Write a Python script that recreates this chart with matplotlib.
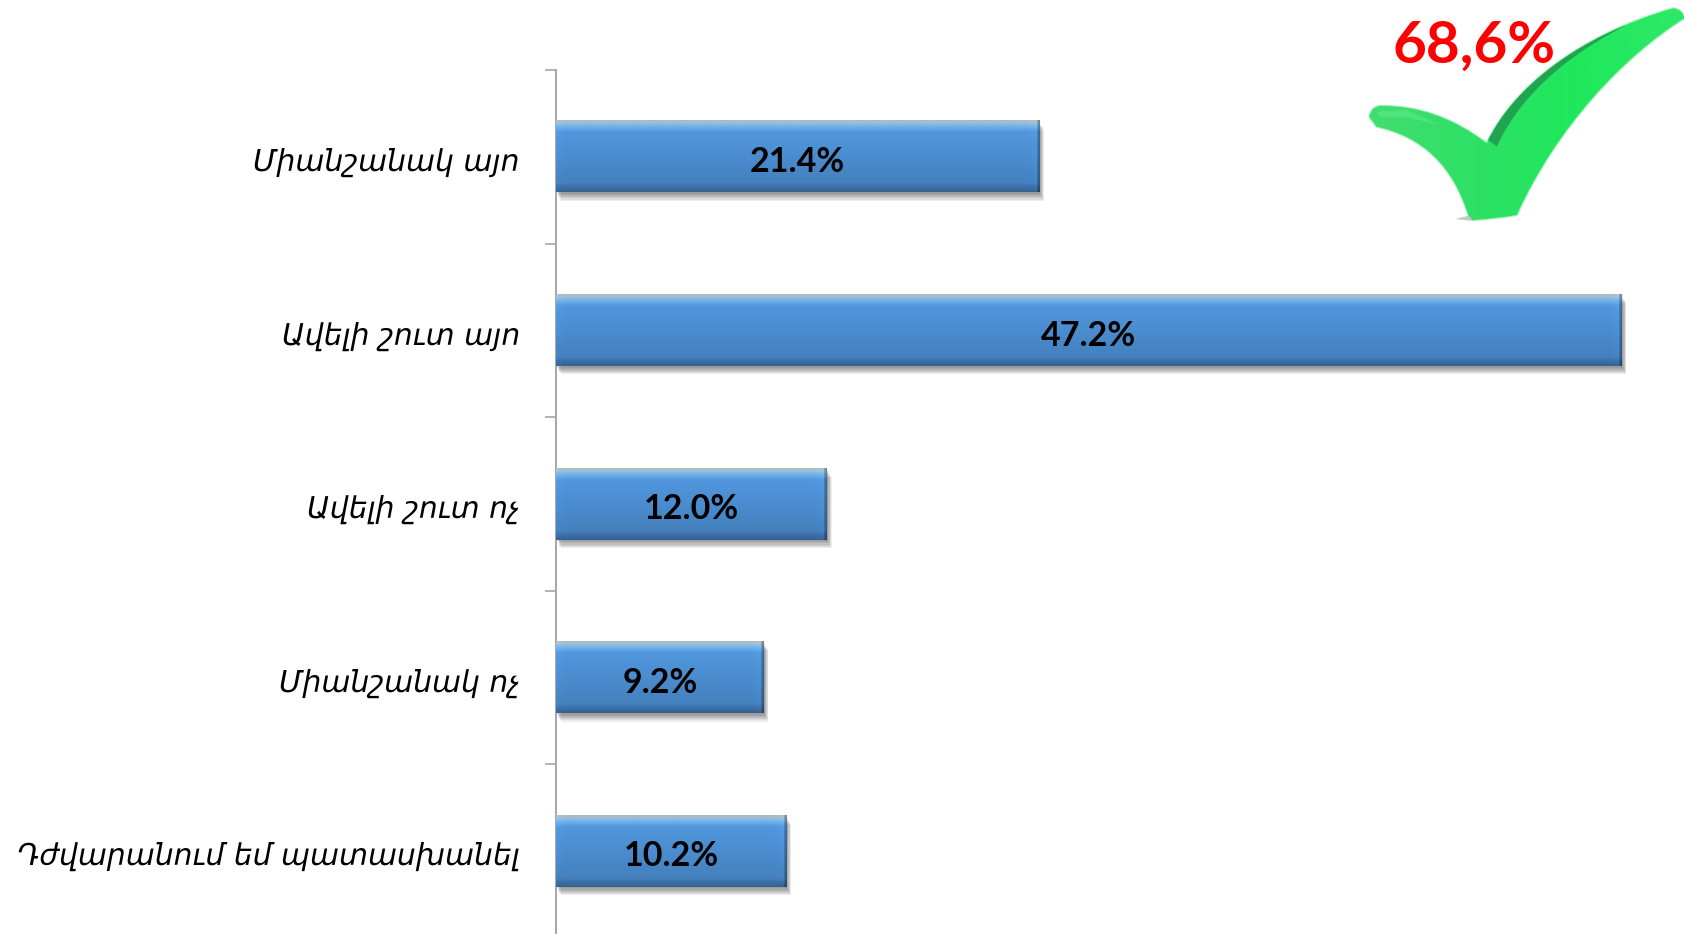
import numpy as np
import matplotlib
matplotlib.use("Agg")
import matplotlib.pyplot as plt
import matplotlib.patheffects as pe
from matplotlib.path import Path
from matplotlib.patches import PathPatch
from matplotlib.colors import LinearSegmentedColormap

categories = ["Միանշանակ այո", "Ավելի շուտ այո", "Ավելի շուտ ոչ", "Միանշանակ ոչ", "Դժվարանում եմ պատասխանել"]
values = [21.4, 47.2, 12.0, 9.2, 10.2]
value_labels = ["21.4%", "47.2%", "12.0%", "9.2%", "10.2%"]
callout = "68,6%"

W, H = 1684, 934
fig = plt.figure(figsize=(W / 100, H / 100), dpi=100, facecolor="white")
ax = fig.add_axes([556 / W, (H - 938) / H, 1129 / W, 868 / H])

for s in ("top", "right", "bottom"):
    ax.spines[s].set_visible(False)
ax.spines["left"].set_color("#a6a6a6")
ax.spines["left"].set_linewidth(1.4)
ax.set_xticks([])
ax.set_yticks(np.arange(len(values) + 1) - 0.5)
ax.set_yticklabels([])
ax.tick_params(axis="y", length=8, width=1.2, color="#a6a6a6")

cmap = LinearSegmentedColormap.from_list("bar", [
    (0.00, "#a9bcc8"), (0.035, "#a9bcc8"), (0.05, "#82bdee"), (0.16, "#5197dd"),
    (0.55, "#4a8bcd"), (0.88, "#4480bd"), (0.93, "#3b70a8"), (1.00, "#35628f")])
v_grad = cmap(np.linspace(0, 1, 142))[:, :3]
bar_h = 0.41
px_per_unit = 1129 / 50

shadow_steps = [((o * 0.55, -o), 0.085) for o in (6.0, 5.2, 4.4, 3.6, 2.8, 2.0, 1.2)]
bars = ax.barh(range(len(values)), values, height=bar_h, color="#4a88cb", linewidth=0, zorder=2)
for i, (b, v) in enumerate(zip(bars, values)):
    b.set_path_effects([pe.SimplePatchShadow(offset=o, shadow_rgbFace="#333333", alpha=a)
                        for o, a in shadow_steps] + [pe.Normal()])
    n = int(v * px_per_unit)
    shade = np.ones(n)
    shade[-14:] = np.linspace(1.0, 1.04, 14)
    shade[-3:] = [0.85, 0.75, 0.7]
    shade[:10] = np.linspace(1.03, 1.0, 10)
    img = np.clip(v_grad[:, None, :] * shade[None, :, None], 0, 1)
    ax.imshow(img, aspect="auto", zorder=3, extent=(0, v, i + bar_h / 2, i - bar_h / 2),
              interpolation="bilinear")
    ax.text(v / 2, i + 0.03, value_labels[i], ha="center", va="center", zorder=5,
            family="Lato", fontweight="bold", fontsize=24.5, color="black")
    ax.annotate(categories[i], xy=(0, i), xycoords=("axes fraction", "data"), xytext=(-26, -4),
                textcoords="offset points", ha="right", va="center",
                family="DejaVu Sans", style="italic", fontsize=21.4, color="black")
ax.set_xlim(0, 50)
ax.set_ylim(len(values) - 0.5, -0.5)

# Check mark decoration: outline in zoom-crop pixels, converted to figure pixels
def to_fig(pts):
    a = np.array(pts, float)
    return np.c_[(1340 + a[:, 0] / 3) / W, 1 - (a[:, 1] / 3) / H]

C3, C4, L = Path.CURVE3, Path.CURVE4, Path.LINETO
up = [(440, 430), (520, 260), (720, 105), (1000, 25)]
verts = [(88, 350), (95, 320), (120, 318), (290, 315), (440, 430),
         up[1], up[2], up[3], (1030, 30), (1032, 55),
         (850, 170), (650, 380), (530, 645), (470, 655), (400, 660), (385, 645),
         (340, 500), (250, 410), (110, 380), (88, 350)]
codes = [Path.MOVETO, C3, C3, C3, C3, C4, C4, C4, C3, C3,
         C4, C4, C4, C3, C3, L, C4, C4, C4, L]
check = PathPatch(Path(to_fig(verts), codes), transform=fig.transFigure, facecolor="none",
                  edgecolor="#9ff3b8", linewidth=1.6, zorder=10)
fig.add_artist(check)

over = fig.add_axes([0, 0, 1, 1], zorder=20)
over.set_xlim(0, W); over.set_ylim(H, 0); over.axis("off"); over.patch.set_alpha(0)
check_cmap = LinearSegmentedColormap.from_list("chk", ["#45dd72", "#2fe066", "#1fe85c", "#2ee868"])
im = over.imshow(np.linspace(0, 1, 256).reshape(1, -1), cmap=check_cmap, aspect="auto",
                 extent=(1360, 1684, 225, 5), zorder=1)
im.set_clip_path(PathPatch(Path(to_fig(verts), codes), transform=fig.transFigure))

# dark inner strip following the upper edge, tapering toward the tip
t = np.linspace(0.02, 0.82, 40)[:, None]
u = np.array(up, float)
top = ((1 - t)**3) * u[0] + 3 * ((1 - t)**2) * t * u[1] + 3 * (1 - t) * t**2 * u[2] + t**3 * u[3]
w = (1 - (t - 0.02) / 0.8) ** 0.7
low = top + w * np.array([[26.0, 20.0]])
strip = np.vstack([top, low[::-1]])
over.fill((1340 + strip[:, 0] / 3), strip[:, 1] / 3, color="#22a352", lw=0, zorder=2)
# highlight on the left tip and shadow under the foot
over.fill(1340 + np.array([110, 200, 300, 200, 120]) / 3,
          np.array([335, 330, 375, 352, 352]) / 3, color="#5fe98a", lw=0, alpha=0.6, zorder=2)
over.fill(1340 + np.array([345, 395, 400, 390]) / 3,
          np.array([657, 645, 662, 662]) / 3, color="#9aa89f", lw=0, alpha=0.6, zorder=0.5)

over.text(1474, 46, callout, ha="center", va="center", family="Lato", fontweight="bold",
          fontsize=42, color="#ff0000", zorder=5)

fig.savefig("out.png", dpi=100)
